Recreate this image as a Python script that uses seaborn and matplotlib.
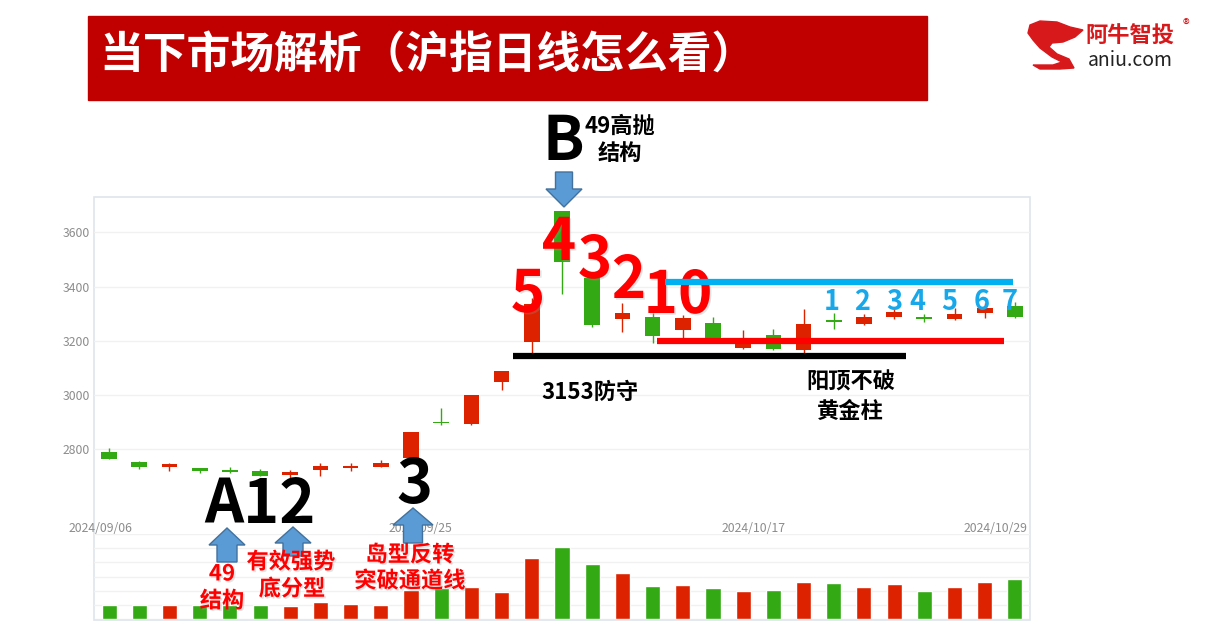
import matplotlib
matplotlib.use("Agg")
import matplotlib.pyplot as plt
import matplotlib.patheffects as pe
from matplotlib.patches import Rectangle, Polygon
import seaborn as sns
import pandas as pd
import numpy as np

# ---------------- data ----------------
dates = ["2024/09/06", "2024/09/09", "2024/09/10", "2024/09/11", "2024/09/12", "2024/09/13",
         "2024/09/18", "2024/09/19", "2024/09/20", "2024/09/23", "2024/09/24", "2024/09/25",
         "2024/09/26", "2024/09/27", "2024/09/30", "2024/10/08", "2024/10/09", "2024/10/10",
         "2024/10/11", "2024/10/14", "2024/10/15", "2024/10/16", "2024/10/17", "2024/10/18",
         "2024/10/21", "2024/10/22", "2024/10/23", "2024/10/24", "2024/10/25", "2024/10/28",
         "2024/10/29"]
opens = [2790, 2754, 2735, 2730, 2722, 2718, 2703, 2722, 2731, 2734, 2768, 2901, 2892, 3046,
         3194, 3679, 3431, 3279, 3289, 3240, 3266, 3172, 3221, 3166, 3276, 3263, 3286, 3289,
         3281, 3301, 3329]
highs = [2804, 2757, 2750, 2732, 2733, 2727, 2723, 2747, 2748, 2760, 2864, 2952, 3001, 3089,
         3358, 3679, 3444, 3340, 3301, 3295, 3286, 3239, 3244, 3316, 3303, 3297, 3325, 3297,
         3320, 3339, 3342]
lows = [2763, 2727, 2720, 2713, 2712, 2701, 2689, 2700, 2719, 2733, 2762, 2889, 2889, 3018,
        3153, 3373, 3252, 3231, 3190, 3209, 3201, 3170, 3166, 3153, 3242, 3258, 3280, 3270,
        3276, 3283, 3285]
closes = [2765, 2734, 2744, 2719, 2715, 2702, 2716, 2736, 2737, 2749, 2862, 2895, 3000, 3089,
          3337, 3491, 3258, 3302, 3217, 3285, 3210, 3205, 3168, 3262, 3269, 3287, 3305, 3281,
          3300, 3322, 3287]
volumes = [2010, 2010, 2010, 2010, 1970, 2010, 1870, 2440, 2150, 2010, 4080, 4410, 4550, 3800,
           8660, 10220, 7740, 6480, 4650, 4830, 4360, 3940, 4030, 5290, 5110, 4450, 5010, 3940,
           4550, 5210, 5580]
date_tick_labels = ["2024/09/06", "2024/09/25", "2024/10/17", "2024/10/29"]
date_tick_pos = [-0.3, 10.3, 21.35, 29.37]
price_ticks = [2800, 3000, 3200, 3400, 3600]
vol_grid = [0, 2000, 4000, 6000, 8000, 10000, 12000]

title_text = "当下市场解析（沪指日线怎么看）"
blue_level, red_level, black_level = 3415, 3198, 3143

RED = "#dd2200"
GREEN = "#33a913"

# ---------------- style ----------------
sns.set_theme(style="white")
plt.rcParams['font.family'] = ['Noto Sans CJK SC', 'DejaVu Sans']

W, H = 1211, 642
fig = plt.figure(figsize=(W / 100, H / 100), dpi=100)


def fx(px):
    return px / W


def fy(py):
    return 1 - py / H


LEFT, RIGHT = 94, 1030

# background frame
bg = fig.add_axes([0, 0, 1, 1], zorder=-1)
bg.set_xlim(0, W)
bg.set_ylim(H, 0)
bg.axis("off")
bg.add_patch(Rectangle((LEFT, 197), RIGHT - LEFT, 620 - 197, fill=False,
                       edgecolor="#dfe5ee", lw=1.2))

# price axes
ax = fig.add_axes([fx(LEFT), fy(520), fx(RIGHT - LEFT), (520 - 197) / H])
ax.set_facecolor("none")
idx = np.arange(len(dates))
o = np.array(opens, float)
c = np.array(closes, float)
hi = np.array(highs, float)
lo = np.array(lows, float)
up = c >= o
cols = np.where(up, RED, GREEN)
ax.vlines(idx, lo, hi, colors=cols, lw=1, zorder=3)
body_bottom = np.minimum(o, c)
body_h = np.maximum(np.abs(c - o), 5)
ax.bar(idx, body_h, bottom=body_bottom, width=0.52, color=cols, zorder=4, linewidth=0)
ax.set_xlim(-0.5, len(dates) - 0.5)
ax.set_ylim(2538.4, 3730.3)
ax.set_yticks(price_ticks)
ax.set_yticklabels([str(t) for t in price_ticks])
ax.yaxis.grid(True, color="#f1f1f1", lw=1)
ax.xaxis.grid(False)
ax.set_xticks(date_tick_pos)
ax.set_xticklabels(date_tick_labels)
ax.tick_params(axis="y", length=0, labelsize=8.8, labelcolor="#8c8c8c", pad=3)
ax.tick_params(axis="x", length=0, labelsize=8.8, labelcolor="#8c8c8c", pad=1.5)
for s in ax.spines.values():
    s.set_visible(False)

# volume axes
axv = fig.add_axes([fx(LEFT), fy(619), fx(RIGHT - LEFT), (619 - 534) / H])
axv.set_facecolor("none")
vdf = pd.DataFrame({"idx": idx, "vol": volumes, "dir": np.where(up, "up", "down")})
sns.barplot(data=vdf, x="idx", y="vol", hue="dir", palette={"up": RED, "down": GREEN},
            dodge=False, width=0.5, saturation=1, legend=False, ax=axv, zorder=3)
axv.set_xlim(-0.5, len(dates) - 0.5)
axv.set_ylim(0, 12000)
axv.set_yticks(vol_grid)
axv.set_yticklabels([])
axv.set_xticks([])
axv.set_xlabel("")
axv.set_ylabel("")
axv.yaxis.grid(True, color="#f1f1f1", lw=1)
axv.tick_params(length=0)
for s in axv.spines.values():
    s.set_visible(False)

# ---------------- overlay annotations ----------------
ov = fig.add_axes([0, 0, 1, 1], zorder=10)
ov.set_xlim(0, W)
ov.set_ylim(H, 0)
ov.patch.set_alpha(0)
ov.axis("off")

# title banner
ov.add_patch(Rectangle((88, 16), 927 - 88, 84, color="#c00000", zorder=1))
ov.text(99, 56, title_text, color="white", fontsize=31.5, fontweight="bold",
        ha="left", va="center", zorder=2)

# logo
swoosh = [(1028, 33), (1030, 25), (1040, 21), (1057, 22), (1070, 27), (1083, 30),
          (1075, 37), (1063, 42), (1052, 43), (1049, 47), (1057, 54), (1069, 59),
          (1074, 68), (1060, 69), (1040, 69), (1033, 65), (1053, 65), (1062, 62),
          (1052, 57), (1040, 48), (1033, 40)]
ov.add_patch(Polygon(swoosh, closed=True, color="#d7191c", zorder=2))
ov.text(1130, 36, "阿牛智投", color="#d7191c", fontsize=16, fontweight="bold",
        ha="center", va="center")
ov.text(1186, 26, "®", color="#d7191c", fontsize=10, ha="center", va="center")
ov.text(1130, 60, "aniu.com", color="#222222", fontsize=14, ha="center", va="center")

shadow = [pe.withSimplePatchShadow(offset=(1.2, -1.2), shadow_rgbFace="#999999", alpha=0.25)]

# level lines (price coords, drawn on top)
ov.plot([13.39, 26.38], [black_level, black_level], color="black", lw=4.5,
        solid_capstyle="butt", transform=ax.transData, zorder=6)
ov.plot([18.13, 29.63], [red_level, red_level], color="#ff0000", lw=4.5,
        solid_capstyle="butt", transform=ax.transData, zorder=6)

# big red countdown numbers
for txt, x, yb in [("5", 528, 312), ("4", 559, 260), ("3", 595, 278), ("2", 629, 298),
                   ("10", 678, 313)]:
    ov.text(x, yb, txt, color="#ff0000", fontsize=42, fontweight="bold",
            ha="center", va="baseline", zorder=5, path_effects=shadow)

ov.plot([18.4, 29.93], [blue_level, blue_level], color="#00b0f0", lw=4.5,
        solid_capstyle="butt", transform=ax.transData, zorder=7)

# blue count numbers
for txt, x in [("1", 832), ("2", 862), ("3", 894), ("4", 917), ("5", 949),
               ("6", 982), ("7", 1010)]:
    ov.text(x, 310.5, txt, color="#18a8ea", fontsize=19.5, fontweight="bold",
            ha="center", va="baseline", zorder=8)

# B label
ov.text(563, 160, "B", color="black", fontsize=44, fontweight="bold",
        ha="center", va="baseline", zorder=5)
ov.text(620, 126, "49高抛", color="black", fontsize=16, fontweight="bold",
        ha="center", va="center")
ov.text(620, 153, "结构", color="black", fontsize=16, fontweight="bold",
        ha="center", va="center")

ARROW_FC, ARROW_EC = "#5b9bd5", "#41719c"


def down_arrow(xc, ytop, ybase, ytip, sw, hw):
    pts = [(xc - sw / 2, ytop), (xc + sw / 2, ytop), (xc + sw / 2, ybase),
           (xc + hw / 2, ybase), (xc, ytip), (xc - hw / 2, ybase), (xc - sw / 2, ybase)]
    ov.add_patch(Polygon(pts, closed=True, facecolor=ARROW_FC, edgecolor=ARROW_EC,
                         lw=1, zorder=9))


down_arrow(564, 172, 189, 207, 17, 36)
down_arrow(227, 562, 545, 528, 20, 36)
down_arrow(293, 556, 543, 527, 20, 36)
down_arrow(413, 543, 525, 508, 19, 40)

# black labels
ov.text(260, 523, "A12", color="black", fontsize=44, fontweight="bold",
        ha="center", va="baseline", zorder=5)
ov.text(414, 503, "3", color="black", fontsize=44, fontweight="bold",
        ha="center", va="baseline", zorder=5)
ov.text(590, 392, "3153防守", color="black", fontsize=16, fontweight="bold",
        ha="center", va="center")
ov.text(851, 382, "阳顶不破", color="black", fontsize=16, fontweight="bold",
        ha="center", va="center")
ov.text(850, 411, "黄金柱", color="black", fontsize=16, fontweight="bold",
        ha="center", va="center")

# red labels
for txt, x, y in [("49", 222, 574), ("结构", 222, 601), ("有效强势", 291, 562),
                  ("底分型", 292, 589), ("岛型反转", 410, 555), ("突破通道线", 410, 581)]:
    ov.text(x, y, txt, color="#ff0000", fontsize=16, fontweight="bold",
            ha="center", va="center", zorder=11, path_effects=shadow)

fig.savefig("out.png", dpi=100)
